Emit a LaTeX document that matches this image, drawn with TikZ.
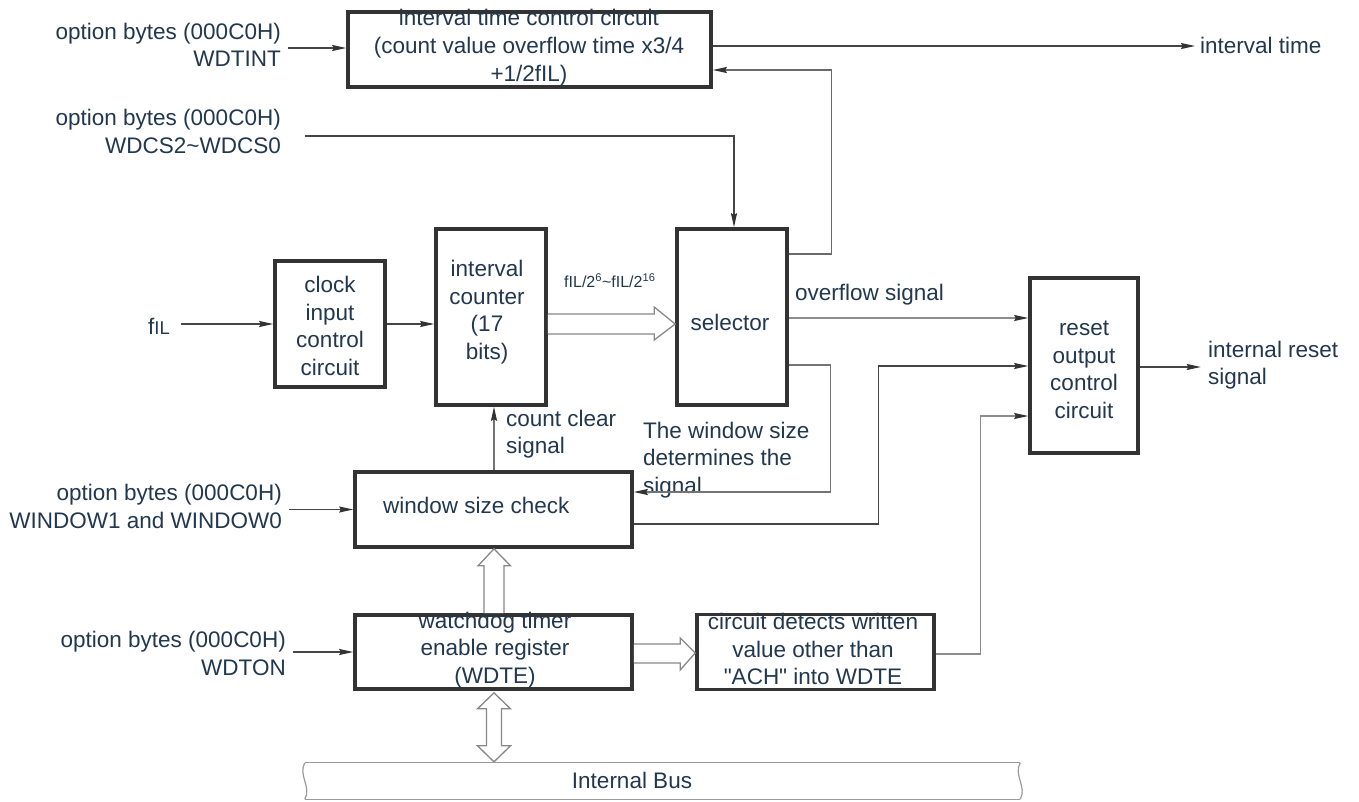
\documentclass[tikz,border=0pt]{standalone}
\usepackage{fontspec}
\setmainfont{Liberation Sans}
\newfontfamily\qfont[Ligatures=TeXOff]{Liberation Sans}
\usetikzlibrary{arrows.meta,calc}
\definecolor{boxc}{HTML}{333333}
\definecolor{txtc}{HTML}{22384F}
\definecolor{lnd}{HTML}{454545}
\definecolor{lnlc}{HTML}{8C8C8C}
\definecolor{holc}{HTML}{888888}
\definecolor{tipc}{HTML}{333333}
\definecolor{busc}{HTML}{9A9A9A}
\newcommand\mainsz{\fontsize{22.5}{27.5}\selectfont}
\newcommand\smallsz{\fontsize{16}{18}\selectfont}
\newcommand\subsz{\fontsize{18.5}{20}\selectfont}
\tikzset{
  blk/.style={draw=boxc, line width=3.6pt, inner sep=0pt},
  lbl/.style={text=txtc, font=\mainsz, align=center, inner sep=0pt},
  conn/.style={draw=lnd, line width=1.3pt, -{Stealth[length=14pt,width=6pt,inset=1.5pt,color=tipc]}},
  connl/.style={conn, draw=lnlc},
  fat/.style={draw=holc, line width=1.3pt, fill=white, line join=miter},
}
\begin{document}
\begin{tikzpicture}[x=1pt,y=-1pt]
\useasboundingbox (0,0) rectangle (1359,801);
\fill[white] (0,0) rectangle (1359,801);

% blocks
\node[blk, minimum width=363pt, minimum height=75pt] (itc) at (529.5,49.5) {};
\node[blk, minimum width=110pt, minimum height=126pt] (clk) at (330,324) {};
\node[blk, minimum width=110pt, minimum height=176pt] (cnt) at (491,317) {};
\node[blk, minimum width=110pt, minimum height=176pt] (sel) at (732,317) {};
\node[blk, minimum width=108pt, minimum height=175pt] (rst) at (1084,365.5) {};
\node[blk, minimum width=277pt, minimum height=75pt] (win) at (493.5,509.5) {};
\node[blk, minimum width=277pt, minimum height=74pt] (wdte) at (493.5,652) {};
\node[blk, minimum width=237pt, minimum height=75pt] (det) at (815.5,652) {};
\node[inner sep=0pt, minimum width=715pt, minimum height=36pt] (bus) at (662.5,781) {};

% block texts
\node[lbl, font=\fontsize{22.5}{28}\selectfont] (itct) at (529,48) {interval time control circuit\\(count value overflow time x3/4\\+1/2fIL)};
\node[lbl] (clkt) at (330,326) {clock\\input\\control\\circuit};
\node[lbl] (cntt) at (487,312) {interval\\counter\\(17\\bits)};
\node[lbl] (selt) at (730,322) {selector};
\node[lbl] (rstt) at (1084,370) {reset\\output\\control\\circuit};
\node[lbl, anchor=west] (wint) at (383,505) {window size check};
\node[lbl] (wdtet) at (495,650) {watchdog timer\\enable register\\(WDTE)};
\node[lbl] (dett) at (813,649) {circuit detects written\\value other than\\{\qfont "ACH"} into WDTE};

% outside labels
\node[lbl, anchor=east, align=right] (l1) at (281,45) {option bytes (000C0H)\\WDTINT};
\node[lbl, anchor=east, align=right] (l2) at (281,131.5) {option bytes (000C0H)\\WDCS2\textasciitilde WDCS0};
\node[lbl, anchor=east, align=right] (l3) at (282,506.5) {option bytes (000C0H)\\WINDOW1 and WINDOW0};
\node[lbl, anchor=east, align=right] (l4) at (286,653.5) {option bytes (000C0H)\\WDTON};
\node[lbl] (fil) at (159,326) {f{\subsz IL}};
\node[lbl, anchor=west] (itime) at (1200,45) {interval time};
\node[lbl, anchor=west, align=left] (irs) at (1208,365) {internal reset\\signal};
\node[lbl, anchor=west] (ovf) at (795,295) {overflow signal};
\node[lbl, anchor=west, align=left] (ccs) at (506,434) {count clear\\signal};
\node[lbl, anchor=west, align=left] (wsd) at (643,460) {The window size\\determines the\\signal};
\node[lbl, anchor=west, font=\smallsz] (frq) at (564,281) {fIL/2\textsuperscript{6}\textasciitilde fIL/2\textsuperscript{16}};
\node[lbl] (bust) at (632,780) {Internal Bus};

% connectors
\draw[conn] ([xshift=7pt,yshift=-3pt]l1.east) coordinate (a1) -- (a1 -| itc.west);
\draw[conn] ([xshift=24pt,yshift=-4.5pt]l2.east) coordinate (a2) -| ([xshift=2pt]sel.north);
\draw[conn] ([yshift=3.5pt]itc.east) -- ([xshift=-5pt]itime.west |- 0,46);
\draw[conn, draw=lnd!80] ([yshift=63pt]sel.east) -- ++(43,0) |- ([yshift=-20.5pt]itc.east);
\draw[conn] ([xshift=11pt,yshift=2pt]fil.east) coordinate (a5) -- (a5 -| clk.west);
\draw[conn] (clk.east) -- (clk.east -| cnt.west);
\draw[connl] ([yshift=-1pt]sel.east) coordinate (a8) -- (a8 -| rst.west);
\draw[conn, draw=lnd!75] ([yshift=-48pt]sel.east) -- ++(42,0) |- ([yshift=17.5pt]win.east);
\draw[conn] ([yshift=-14.5pt]win.east) -- ++(245,0) |- ([yshift=-0.5pt]rst.west);
\draw[connl] ([yshift=-2pt]det.east) -- ++(45,0) |- ([yshift=-50.5pt]rst.west);
\draw[conn] ([yshift=-1.5pt]rst.east) -- ++(61,0);
\draw[conn, draw=lnd!75] ([xshift=0.5pt]win.north) coordinate (a13) -- (a13 |- cnt.south);
\draw[conn] ([xshift=7pt,yshift=-3pt]l3.east) coordinate (a14) -- (a14 -| win.west);
\draw[conn] ([xshift=7pt,yshift=1.5pt]l4.east) coordinate (a15) -- (a15 -| wdte.west);

% wide (hollow) arrows
\draw[fat] ([yshift=3pt]cnt.east) -- ([xshift=-21pt,yshift=3pt]sel.west) -- ([xshift=-21pt,yshift=10pt]sel.west)
  -- ([yshift=-7pt]sel.west) -- ([xshift=-21pt,yshift=-23pt]sel.west) -- ([xshift=-21pt,yshift=-17pt]sel.west)
  -- ([yshift=-17pt]cnt.east);
\draw[fat] ([xshift=-9.5pt]wdte.north) -- ([xshift=-9.5pt,yshift=-17pt]win.south) -- ([xshift=-15.5pt,yshift=-17pt]win.south)
  -- ([xshift=0.5pt]win.south) -- ([xshift=17pt,yshift=-17pt]win.south) -- ([xshift=10.5pt,yshift=-17pt]win.south)
  -- ([xshift=10.5pt]wdte.north);
\draw[fat] ([yshift=8pt]wdte.east) -- ([xshift=-15pt,yshift=8pt]det.west) -- ([xshift=-15pt,yshift=14pt]det.west)
  -- ([yshift=-1pt]det.west) -- ([xshift=-15pt,yshift=-18pt]det.west) -- ([xshift=-15pt,yshift=-11pt]det.west)
  -- ([yshift=-11pt]wdte.east);
\coordinate (dt) at ([xshift=0.5pt,yshift=-2pt]wdte.south);
\coordinate (db) at (dt |- bus.north);
\draw[fat] (dt) -- ++(16.5,16) -- ++(-9,0) -- ([xshift=7.5pt,yshift=17pt]db) -- ++(9,0) -- ([yshift=1pt]db)
  -- ++(-16.5,-16) -- ++(9,0) -- ([xshift=-7.5pt,yshift=-16pt]dt) -- ++(-9,0) -- cycle;

% internal bus outline
\draw[busc, line width=1.2pt] (bus.north west) -- (bus.north east);
\draw[busc, line width=1.2pt] (bus.south west) -- (bus.south east);
\draw[busc, line width=1.2pt] (bus.north west) .. controls +(-7,12) and +(7,-12) .. (bus.south west);
\draw[busc, line width=1.2pt] (bus.north east) .. controls +(-7,12) and +(7,-12) .. (bus.south east);
\end{tikzpicture}
\end{document}
